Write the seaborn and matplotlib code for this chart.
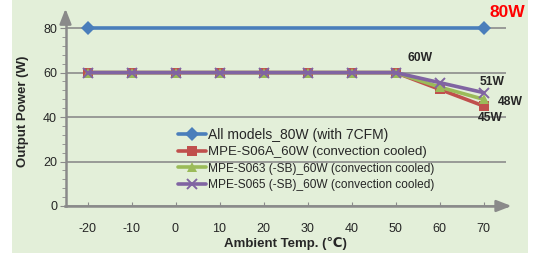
import matplotlib
matplotlib.use("Agg")
import matplotlib.pyplot as plt
import matplotlib.patches as mpatches
from matplotlib.ticker import MultipleLocator
import pandas as pd
import seaborn as sns

# ==================================
# DATA
# ==================================
TEMPS = [-20, -10, 0, 10, 20, 30, 40, 50, 60, 70]

ALL_TEMPS = [-20, 70]
ALL_POWER = [80, 80]

S06A_POWER = [60, 60, 60, 60, 60, 60, 60, 60, 52.5, 45]
S063_POWER = [60, 60, 60, 60, 60, 60, 60, 60, 53.5, 48]
S065_POWER = [60, 60, 60, 60, 60, 60, 60, 60, 55.5, 51]

SERIES = [
    "All models_80W (with 7CFM)",
    "MPE-S06A_60W (convection cooled)",
    "MPE-S063 (-SB)_60W (convection cooled)",
    "MPE-S065 (-SB)_60W (convection cooled)",
]

COLORS = ["#4a7ebb", "#c0504d", "#9bbb59", "#8064a2"]
MARKERS = ["D", "s", "^", "x"]

Y_TICKS = [0, 20, 40, 60, 80]
X_TICKS = TEMPS

# labels: (text, x, y)
END_LABELS = [
    ("60W", 55.6, 66.4),
    ("51W", 71.9, 55.9),
    ("48W", 76.0, 46.6),
    ("45W", 71.5, 39.4),
]

BG = "#e3efd9"
AXIS_GRAY = "#8a8a8a"

# ==================================
# BUILD TABLE
# ==================================
frames = [pd.DataFrame({"temp": ALL_TEMPS, "power": ALL_POWER, "series": SERIES[0]})]
for name, vals in zip(SERIES[1:], [S06A_POWER, S063_POWER, S065_POWER]):
    frames.append(pd.DataFrame({"temp": TEMPS, "power": vals, "series": name}))
df = pd.concat(frames, ignore_index=True)

# ==================================
# PLOT
# ==================================
sns.set_style("white")
plt.rcParams["font.family"] = ["Liberation Sans", "DejaVu Sans", "Noto Sans CJK SC"]
plt.rcParams["axes.unicode_minus"] = False

fig = plt.figure(figsize=(5.33, 2.56), dpi=100, facecolor="white")
fig.patches.append(mpatches.Rectangle(
    (12 / 533, 3 / 256), 516 / 533, 253 / 256,
    transform=fig.transFigure, facecolor=BG, edgecolor="none", zorder=-5))

ax = fig.add_axes([65.5 / 533, 50 / 256, 440 / 533, 189 / 256])
ax.set_facecolor("none")
ax.set_zorder(2)

for name, color, marker in zip(SERIES, COLORS, MARKERS):
    sub = df[df["series"] == name]
    sns.lineplot(
        data=sub, x="temp", y="power", ax=ax, color=color,
        marker=marker, markersize=7,
        markeredgewidth=0 if marker != "x" else 1.4,
        markeredgecolor=color, linewidth=2.6, label=name,
        zorder=3,
    )

ax.set_xlim(-25, 75)
ax.set_ylim(0, 85)
ax.set_xticks(X_TICKS)
ax.set_yticks(Y_TICKS)
ax.yaxis.set_minor_locator(MultipleLocator(4))

ax.tick_params(axis="x", direction="in", length=3, color=AXIS_GRAY,
               labelsize=9, pad=12, bottom=True)
ax.tick_params(axis="y", which="major", direction="out", length=4,
               color=AXIS_GRAY, labelsize=9, pad=2, left=True)
ax.tick_params(axis="y", which="minor", direction="out", length=3,
               color=AXIS_GRAY, left=True)

ax.grid(axis="y", color="#8c8c8c", linewidth=1.2)
ax.grid(axis="x", visible=False)
ax.set_axisbelow(True)

for side in ["top", "right"]:
    ax.spines[side].set_visible(False)
for side in ["left", "bottom"]:
    ax.spines[side].set_color(AXIS_GRAY)
    ax.spines[side].set_linewidth(1.8)

# axis arrows
ax.annotate("", xy=(-25, 90), xytext=(-25, 84), annotation_clip=False,
            arrowprops=dict(arrowstyle="-|>,head_length=0.9,head_width=0.35",
                            color=AXIS_GRAY, lw=1.8))
ax.annotate("", xy=(77, 0), xytext=(73, 0), annotation_clip=False,
            arrowprops=dict(arrowstyle="-|>,head_length=0.9,head_width=0.35",
                            color=AXIS_GRAY, lw=1.8))

ax.set_xlabel("Ambient Temp. (℃)", fontsize=9.5, fontweight="bold", labelpad=2)
ax.set_ylabel("Output Power (W)", fontsize=9.5, fontweight="bold", labelpad=10)

# value labels
for text, x, y in END_LABELS:
    ax.text(x, y, text, fontsize=8.7, fontweight="bold", ha="center",
            va="center", clip_on=False)
ax.text(75.3, 87.2, "80W", fontsize=12.5, fontweight="bold", color="#ff0000",
        ha="center", va="center", clip_on=False)

leg = ax.legend(loc="upper left", bbox_to_anchor=(178 / 533, 1 - 128 / 256),
                bbox_transform=fig.transFigure, frameon=False, fontsize=9.5,
                handlelength=2.1, handletextpad=0.15, labelspacing=0.32,
                borderpad=0, borderaxespad=0)
leg.get_texts()[0].set_fontsize(10)
for t in leg.get_texts()[2:]:
    t.set_fontsize(8.6)

fig.savefig("out.png", dpi=100, facecolor="white")
